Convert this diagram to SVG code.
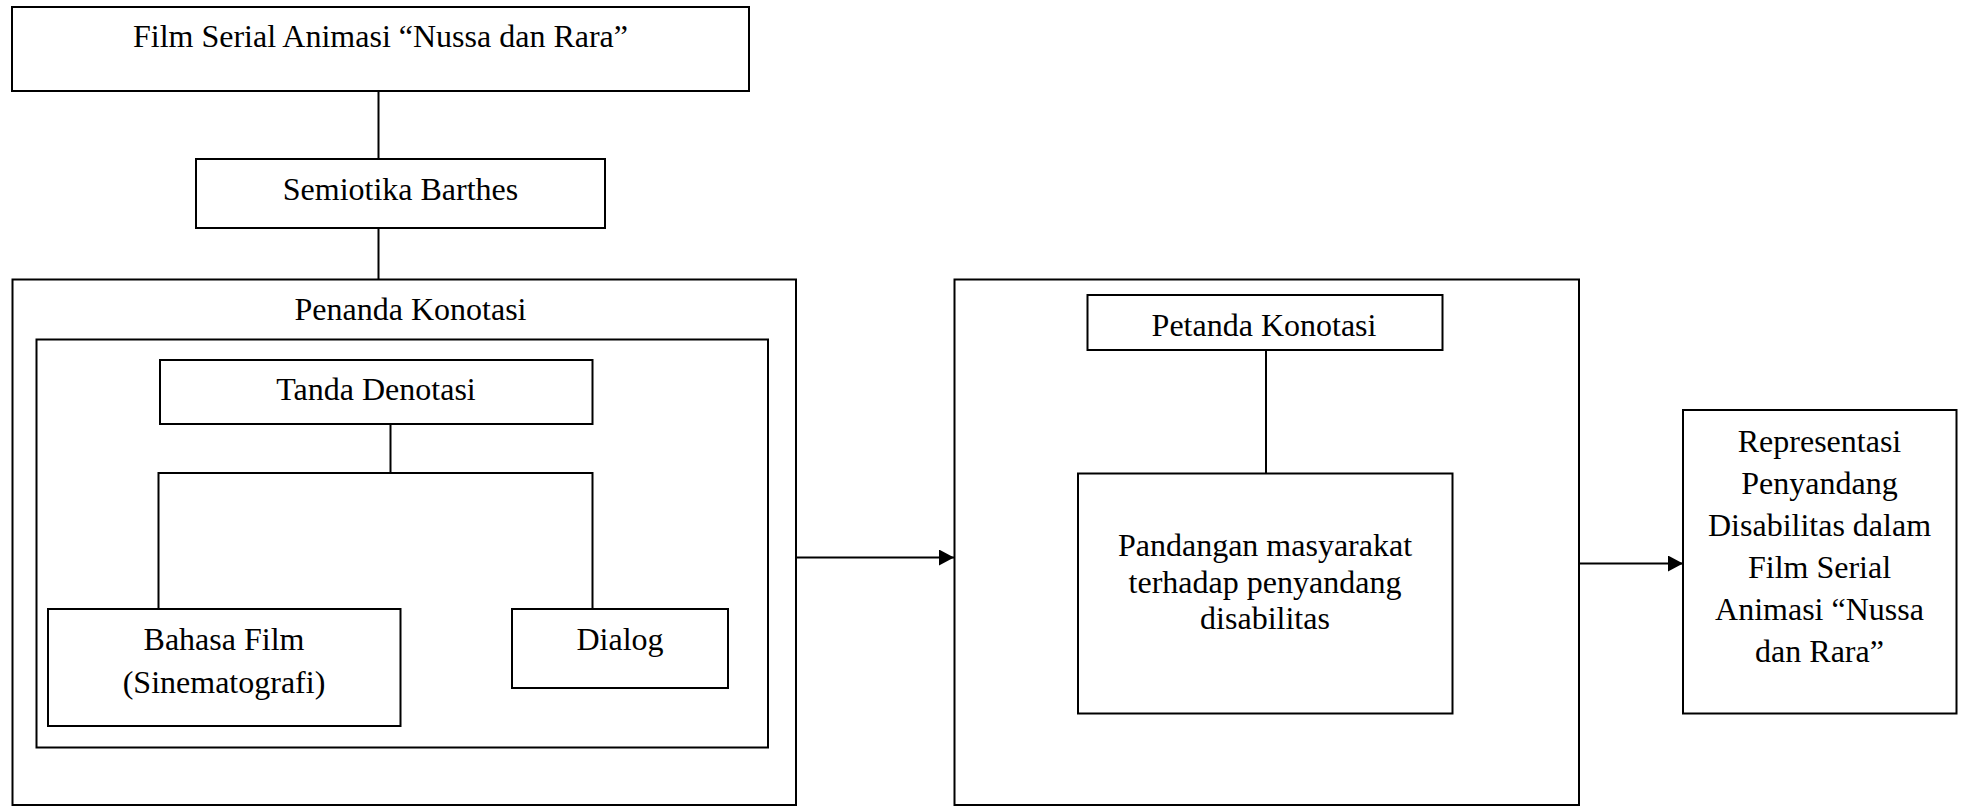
<svg xmlns="http://www.w3.org/2000/svg" width="1965" height="807" viewBox="0 0 1965 807">
<defs>
<style>
.box{fill:#fff;stroke:#000;stroke-width:2}
.frame{fill:none;stroke:#000;stroke-width:2}
.ln{fill:none;stroke:#000;stroke-width:2}
text{font-family:"Liberation Serif","Times New Roman",serif;font-size:32px;fill:#000;text-anchor:middle}
</style>
<marker id="ah" markerWidth="15" markerHeight="16" refX="15" refY="8" orient="auto" markerUnits="userSpaceOnUse">
<path d="M0,0 L15,8 L0,16 Z" fill="#000"/>
</marker>
</defs>
<rect width="1965" height="807" fill="#fff"/>
<g id="connectors">
<line class="ln" x1="378.5" y1="91" x2="378.5" y2="159"/>
<line class="ln" x1="378.5" y1="228" x2="378.5" y2="279"/>
<line class="ln" x1="390.5" y1="424" x2="390.5" y2="473"/>
<polyline class="ln" points="158.5,609 158.5,473 592.5,473 592.5,609"/>
<line class="ln" x1="1266" y1="350" x2="1266" y2="473.5"/>
<line class="ln" x1="796" y1="557.5" x2="954" y2="557.5" marker-end="url(#ah)"/>
<line class="ln" x1="1579" y1="563.5" x2="1683" y2="563.5" marker-end="url(#ah)"/>
</g>
<g id="film">
<rect class="box" x="12" y="7" width="737" height="84"/>
<text x="380.5" y="47">Film Serial Animasi “Nussa dan Rara”</text>
</g>
<g id="semiotika">
<rect class="box" x="196" y="159" width="409" height="69"/>
<text x="400.5" y="200">Semiotika Barthes</text>
</g>
<g id="penanda">
<rect class="frame" x="12.5" y="279.5" width="783.5" height="525.5"/>
<text x="410.5" y="320">Penanda Konotasi</text>
<rect class="frame" x="36.5" y="339.5" width="731.5" height="408"/>
</g>
<g id="tanda">
<rect class="box" x="160" y="360" width="432.5" height="64"/>
<text x="376" y="400">Tanda Denotasi</text>
</g>
<g id="bahasa">
<rect class="box" x="48" y="609" width="352.5" height="117"/>
<text x="224" y="650">Bahasa Film</text>
<text x="224" y="693">(Sinematografi)</text>
</g>
<g id="dialog">
<rect class="box" x="512" y="609" width="216" height="79"/>
<text x="620" y="650">Dialog</text>
</g>
<g id="petanda-frame">
<rect class="frame" x="954.5" y="279.5" width="624.5" height="525.5"/>
</g>
<g id="petanda">
<rect class="box" x="1087.5" y="295" width="355" height="55"/>
<text x="1264" y="336">Petanda Konotasi</text>
</g>
<g id="pandangan">
<rect class="box" x="1078" y="473.5" width="374.5" height="240"/>
<text x="1265" y="556">Pandangan masyarakat</text>
<text x="1265" y="593">terhadap penyandang</text>
<text x="1265" y="629">disabilitas</text>
</g>
<g id="representasi">
<rect class="box" x="1683" y="410" width="273.5" height="303.5"/>
<text x="1819.5" y="452">Representasi</text>
<text x="1819.5" y="494">Penyandang</text>
<text x="1819.5" y="536">Disabilitas dalam</text>
<text x="1819.5" y="578">Film Serial</text>
<text x="1819.5" y="620">Animasi “Nussa</text>
<text x="1819.5" y="662">dan Rara”</text>
</g>
</svg>
